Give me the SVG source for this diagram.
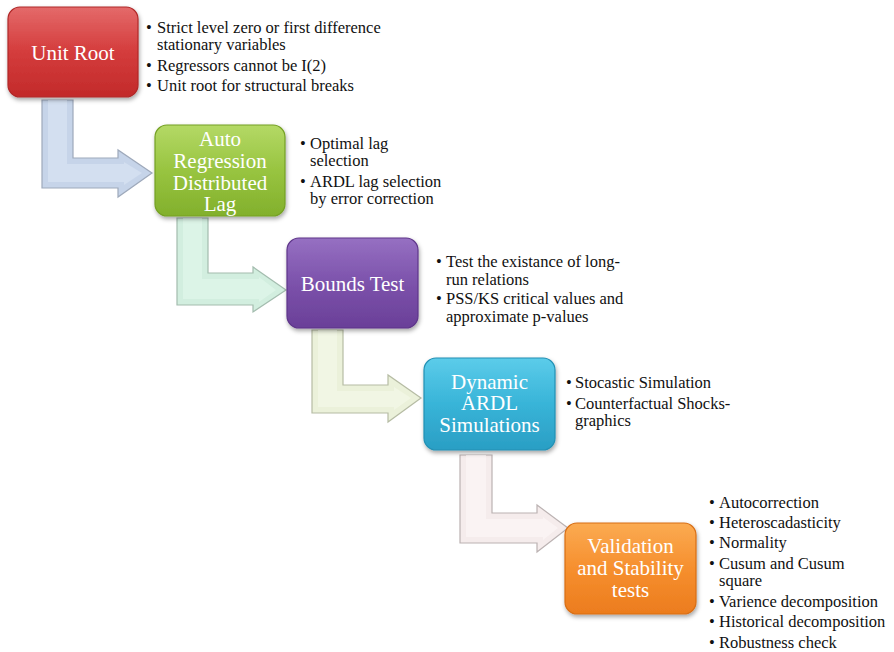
<svg xmlns="http://www.w3.org/2000/svg" width="894" height="652" viewBox="0 0 894 652">
<defs>
<style>
.lbl{font-family:"Liberation Serif","Times New Roman",serif;font-size:21px;fill:#ffffff;text-anchor:middle}
.bt{font-family:"Liberation Serif","Times New Roman",serif;font-size:16.5px;fill:#111111}
.box{stroke-width:1.2;filter:url(#sh)}
.arr{stroke-width:1.2;stroke-linejoin:miter}
</style>
<filter id="sh" x="-20%" y="-20%" width="140%" height="150%">
<feDropShadow dx="1" dy="2.5" stdDeviation="2.2" flood-color="#000" flood-opacity="0.35"/>
</filter>
<linearGradient id="gRed" x1="0" y1="0" x2="0" y2="1"><stop offset="0" stop-color="#e46a6a"/><stop offset="0.5" stop-color="#d43c3c"/><stop offset="1" stop-color="#c22a2a"/></linearGradient>
<linearGradient id="gGreen" x1="0" y1="0" x2="0" y2="1"><stop offset="0" stop-color="#b4d966"/><stop offset="0.5" stop-color="#98c440"/><stop offset="1" stop-color="#82b02c"/></linearGradient>
<linearGradient id="gPurple" x1="0" y1="0" x2="0" y2="1"><stop offset="0" stop-color="#9670c2"/><stop offset="0.5" stop-color="#7c52ab"/><stop offset="1" stop-color="#6a3f98"/></linearGradient>
<linearGradient id="gCyan" x1="0" y1="0" x2="0" y2="1"><stop offset="0" stop-color="#5cccea"/><stop offset="0.5" stop-color="#38b4d8"/><stop offset="1" stop-color="#2a9ec4"/></linearGradient>
<linearGradient id="gOrange" x1="0" y1="0" x2="0" y2="1"><stop offset="0" stop-color="#fbab52"/><stop offset="0.5" stop-color="#f68f2e"/><stop offset="1" stop-color="#ec7c1e"/></linearGradient>
</defs>
<rect width="894" height="652" fill="#ffffff"/>
<g id="connectors">
<path class="arr" d="M42,100 H73 V158 H118 V150 L152,173 L118,197 V188 H42 Z" fill="#c6d4e9" stroke="#9ea9bb"/>
<path d="M48,100 H67 V164 H124 V162 L142,173 L124,185 V182 H48 Z" fill="#d6e1f1" opacity="0.8"/>
<path class="arr" d="M177,218 H208 V273 H253 V267 L286,290 L253,312 V305 H177 Z" fill="#d2eedf" stroke="#a3bcae"/>
<path d="M183,218 H202 V279 H259 V277 L276,290 L259,302 V299 H183 Z" fill="#dff5e9" opacity="0.8"/>
<path class="arr" d="M312,330 H343 V385 H388 V375 L421,398 L388,422 V413 H312 Z" fill="#ebf1da" stroke="#b6bca4"/>
<path d="M318,330 H337 V391 H394 V387 L411,398 L394,410 V407 H318 Z" fill="#f3f7e6" opacity="0.8"/>
<path class="arr" d="M460,455 H492 V513 H537 V505 L568,528 L537,552 V543 H460 Z" fill="#f5ecec" stroke="#bbb2b2"/>
<path d="M466,455 H486 V519 H543 V517 L558,528 L543,540 V537 H466 Z" fill="#fbf5f5" opacity="0.8"/>
</g>
<g id="node-unit-root">
<rect class="box" x="8" y="7" width="130" height="90" rx="12" fill="url(#gRed)" stroke="#b02828"/>
<text class="lbl" x="73" y="60">Unit Root</text>
<text class="bt" x="146" y="33">•</text><text class="bt" x="157" y="33">Strict level zero or first difference</text>
<text class="bt" x="157" y="50">stationary variables</text>
<text class="bt" x="146" y="71">•</text><text class="bt" x="157" y="71">Regressors cannot be I(2)</text>
<text class="bt" x="146" y="91">•</text><text class="bt" x="157" y="91">Unit root for structural breaks</text>
</g>
<g id="node-ardl">
<rect class="box" x="155" y="125" width="130" height="91" rx="12" fill="url(#gGreen)" stroke="#74a024"/>
<text class="lbl" x="220" y="146">Auto</text>
<text class="lbl" x="220" y="168">Regression</text>
<text class="lbl" x="220" y="190">Distributed</text>
<text class="lbl" x="220" y="211">Lag</text>
<text class="bt" x="300" y="149">•</text><text class="bt" x="310" y="149">Optimal lag</text>
<text class="bt" x="310" y="166">selection</text>
<text class="bt" x="300" y="187">•</text><text class="bt" x="310" y="187">ARDL lag selection</text>
<text class="bt" x="310" y="204">by error correction</text>
</g>
<g id="node-bounds-test">
<rect class="box" x="287" y="238" width="131" height="90" rx="12" fill="url(#gPurple)" stroke="#5e358a"/>
<text class="lbl" x="352.5" y="291">Bounds Test</text>
<text class="bt" x="436" y="267">•</text><text class="bt" x="446" y="267">Test the existance of long-</text>
<text class="bt" x="446" y="285">run relations</text>
<text class="bt" x="436" y="304">•</text><text class="bt" x="446" y="304">PSS/KS critical values and</text>
<text class="bt" x="446" y="322">approximate p-values</text>
</g>
<g id="node-dynamic-ardl">
<rect class="box" x="424" y="358" width="131" height="92" rx="12" fill="url(#gCyan)" stroke="#2290b4"/>
<text class="lbl" x="489.5" y="389">Dynamic</text>
<text class="lbl" x="489.5" y="410">ARDL</text>
<text class="lbl" x="489.5" y="432">Simulations</text>
<text class="bt" x="566" y="388">•</text><text class="bt" x="575" y="388">Stocastic Simulation</text>
<text class="bt" x="566" y="409">•</text><text class="bt" x="575" y="409">Counterfactual Shocks-</text>
<text class="bt" x="575" y="426">graphics</text>
</g>
<g id="node-validation">
<rect class="box" x="565" y="523" width="131" height="91" rx="12" fill="url(#gOrange)" stroke="#d86e14"/>
<text class="lbl" x="630.5" y="553">Validation</text>
<text class="lbl" x="630.5" y="575">and Stability</text>
<text class="lbl" x="630.5" y="597">tests</text>
<text class="bt" x="709" y="508">•</text><text class="bt" x="719" y="508">Autocorrection</text>
<text class="bt" x="709" y="528">•</text><text class="bt" x="719" y="528">Heteroscadasticity</text>
<text class="bt" x="709" y="548">•</text><text class="bt" x="719" y="548">Normality</text>
<text class="bt" x="709" y="569">•</text><text class="bt" x="719" y="569">Cusum and Cusum</text>
<text class="bt" x="719" y="586">square</text>
<text class="bt" x="709" y="607">•</text><text class="bt" x="719" y="607">Varience decomposition</text>
<text class="bt" x="709" y="627">•</text><text class="bt" x="719" y="627">Historical decomposition</text>
<text class="bt" x="709" y="648">•</text><text class="bt" x="719" y="648">Robustness check</text>
</g>
</svg>
